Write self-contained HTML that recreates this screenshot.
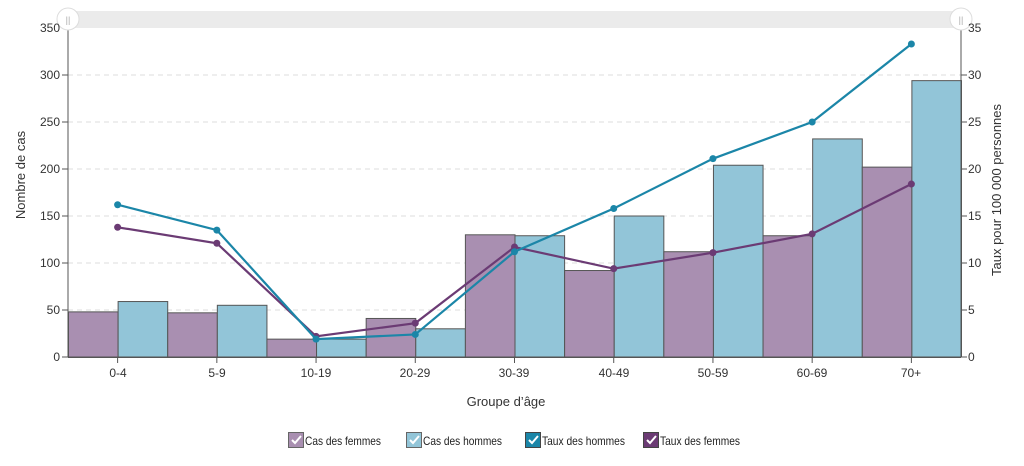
<!DOCTYPE html>
<html><head><meta charset="utf-8"><style>
body{margin:0;background:#fff;width:1024px;height:461px;overflow:hidden;font-family:"Liberation Sans",sans-serif}
svg text{font-family:"Liberation Sans",sans-serif;font-size:12px;fill:#333}
svg text.lg{font-size:12px;fill:#222}
</style></head><body>
<svg id="s" width="1024" height="461" xmlns="http://www.w3.org/2000/svg">
<rect x="68" y="11" width="893" height="17" fill="#ebebeb"/>
<g stroke="#ddd" stroke-dasharray="5,4">
<line x1="68" x2="961" y1="75" y2="75"/><line x1="68" x2="961" y1="122" y2="122"/>
<line x1="68" x2="961" y1="169" y2="169"/><line x1="68" x2="961" y1="216" y2="216"/>
<line x1="68" x2="961" y1="263" y2="263"/><line x1="68" x2="961" y1="310" y2="310"/>
</g>
<g id="bars"></g>
<g stroke="#555" stroke-width="1">
<line x1="68" x2="68" y1="28" y2="357"/><line x1="961" x2="961" y1="28" y2="357"/>
<line x1="68" x2="961" y1="357.5" y2="357.5"/>
</g>
<g id="ticks" stroke="#555"></g>
<g id="lines"></g>
<circle cx="68" cy="19" r="11" fill="#fff" stroke="#ddd"/><text x="68" y="23" text-anchor="middle" style="font-size:9px;fill:#aaa">||</text>
<circle cx="961" cy="19" r="11" fill="#fff" stroke="#ddd"/><text x="961" y="23" text-anchor="middle" style="font-size:9px;fill:#aaa">||</text>
<g text-anchor="end">
<text x="60" y="32">350</text><text x="60" y="79">300</text><text x="60" y="126">250</text><text x="60" y="173">200</text>
<text x="60" y="220">150</text><text x="60" y="267">100</text><text x="60" y="314">50</text><text x="60" y="361">0</text>
</g>
<g text-anchor="start">
<text x="968" y="32">35</text><text x="968" y="79">30</text><text x="968" y="126">25</text><text x="968" y="173">20</text>
<text x="968" y="220">15</text><text x="968" y="267">10</text><text x="968" y="314">5</text><text x="968" y="361">0</text>
</g>
<g text-anchor="middle">
<text x="118" y="377">0-4</text><text x="217" y="377">5-9</text><text x="316" y="377">10-19</text><text x="415" y="377">20-29</text>
<text x="514" y="377">30-39</text><text x="614" y="377">40-49</text><text x="713" y="377">50-59</text><text x="812" y="377">60-69</text><text x="911" y="377">70+</text>
<text x="506" y="406" style="font-size:13px">Groupe d’âge</text>
</g>
<text transform="translate(25,175) rotate(-90)" text-anchor="middle" style="font-size:13px">Nombre de cas</text>
<text transform="translate(1001,190) rotate(-90)" text-anchor="middle" style="font-size:13px">Taux pour 100 000 personnes</text>
<g>
<rect x="288.5" y="432.5" width="15" height="15" fill="#a98fb1" stroke="#666"/><path d="M292 440l3 3 6-7" stroke="#fff" stroke-width="2" fill="none"/>
<text class="lg" x="305" y="445" textLength="76" lengthAdjust="spacingAndGlyphs">Cas des femmes</text>
<rect x="406.5" y="432.5" width="15" height="15" fill="#92c5d8" stroke="#666"/><path d="M410 440l3 3 6-7" stroke="#fff" stroke-width="2" fill="none"/>
<text class="lg" x="423" y="445" textLength="79" lengthAdjust="spacingAndGlyphs">Cas des hommes</text>
<rect x="525.5" y="432.5" width="15" height="15" fill="#1b86a8" stroke="#444"/><path d="M529 440l3 3 6-7" stroke="#fff" stroke-width="2" fill="none"/>
<text class="lg" x="542" y="445" textLength="83" lengthAdjust="spacingAndGlyphs">Taux des hommes</text>
<rect x="643.5" y="432.5" width="15" height="15" fill="#6b3b74" stroke="#444"/><path d="M647 440l3 3 6-7" stroke="#fff" stroke-width="2" fill="none"/>
<text class="lg" x="660" y="445" textLength="80" lengthAdjust="spacingAndGlyphs">Taux des femmes</text>
</g>
</svg>
<script>
var ns="http://www.w3.org/2000/svg",x0=68,w=893/9,k=329/350,y0=357;
var f=[48,47,19,41,130,92,112,129,202],h=[59,55,19,30,129,150,204,232,294];
var th=[16.2,13.5,1.9,2.4,11.2,15.8,21.1,25,33.3],tf=[13.8,12.1,2.2,3.6,11.7,9.4,11.1,13.1,18.4];
function el(t,a,p){var e=document.createElementNS(ns,t);for(var i in a)e.setAttribute(i,a[i]);document.getElementById(p).appendChild(e);return e;}
for(var i=0;i<9;i++){var gx=x0+i*w;
el("rect",{x:gx+0.5,y:y0-f[i]*k,width:w/2,height:f[i]*k,fill:"#a98fb1",stroke:"#555"},"bars");
el("rect",{x:gx+w/2+0.5,y:y0-h[i]*k,width:w/2,height:h[i]*k,fill:"#92c5d8",stroke:"#555"},"bars");
el("line",{x1:gx+w/2,x2:gx+w/2,y1:357,y2:363},"ticks");}
for(var j=0;j<8;j++){var yy=28+j*47;el("line",{x1:62,x2:68,y1:yy,y2:yy},"ticks");el("line",{x1:961,x2:967,y1:yy,y2:yy},"ticks");}
function line(d,c){var p=d.map(function(v,i){return (x0+i*w+w/2)+","+(y0-v*10*k)}).join(" ");
el("polyline",{points:p,fill:"none",stroke:c,"stroke-width":2.2},"lines");
d.forEach(function(v,i){el("circle",{cx:x0+i*w+w/2,cy:y0-v*10*k,r:3.5,fill:c},"lines");});}
line(tf,"#6b3b74");line(th,"#1b86a8");
</script>
</body></html>
